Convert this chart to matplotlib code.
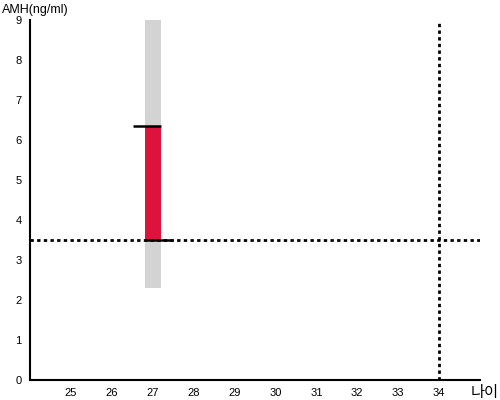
import matplotlib
matplotlib.use("Agg")
import matplotlib.pyplot as plt

plt.rcParams['font.family'] = ['Liberation Sans', 'Noto Sans CJK KR', 'DejaVu Sans']

# data
age = 27
range_low, range_high = 2.3, 9.0        # gray reference band
amh_low, amh_high = 3.5, 6.35           # red measured band
ref_amh = 3.5
ref_age = 34
x_ticks = [25, 26, 27, 28, 29, 30, 31, 32, 33, 34]
y_ticks = [0, 1, 2, 3, 4, 5, 6, 7, 8, 9]

fig = plt.figure(figsize=(5, 4), dpi=100)
ax = fig.add_axes([0.06, 0.05, 0.90, 0.90])

ax.bar(age, range_high - range_low, bottom=range_low, width=0.4, color='#d3d3d3', zorder=1)
ax.bar(age, amh_high - amh_low, bottom=amh_low, width=0.4, color='#dc143c', zorder=2)
ax.hlines(amh_high, age - 0.48, age + 0.2, color='black', linewidth=1.8, zorder=3)
ax.hlines(amh_low, age - 0.2, age + 0.5, color='black', linewidth=1.8, zorder=3)

ax.axhline(ref_amh, color='black', linestyle=(0, (1.2, 1.2)), linewidth=2, zorder=2.5)
ax.axvline(ref_age, color='black', linestyle=(0, (1.2, 1.2)), linewidth=2, zorder=2.5)

ax.set_xlim(24, 35)
ax.set_ylim(0, 9)
ax.set_xticks(x_ticks)
ax.set_yticks(y_ticks)
ax.tick_params(length=0, labelsize=8, pad=6)
ax.spines['top'].set_visible(False)
ax.spines['right'].set_visible(False)
ax.spines['left'].set_linewidth(1.5)
ax.spines['bottom'].set_linewidth(1.5)

fig.text(0.003, 0.975, "AMH(ng/ml)", fontsize=9, va='center', ha='left')
fig.text(0.998, 0.018, "나이", fontsize=11, va='center', ha='right',
         family=['Noto Sans CJK KR', 'DejaVu Sans'])

fig.savefig("out.png", dpi=100)
